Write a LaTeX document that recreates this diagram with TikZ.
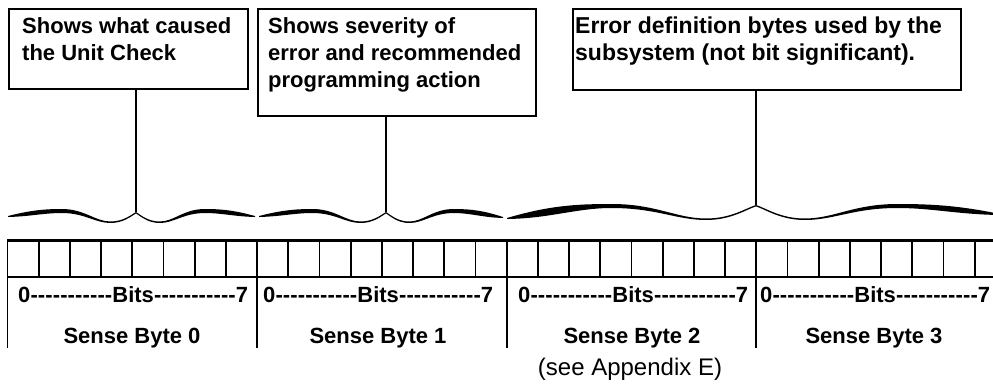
\documentclass[tikz,border=0pt]{standalone}
\usepackage{fontspec}
\setmainfont{Liberation Sans}
\newcommand\halfbrace[4]{%
 \fill (0,#1) .. controls (0.17,#2+1.5) and (0.28,#2) .. (0.42,#2)
   .. controls (0.6,#2) and (0.68,#3-0.5) .. (0.8,#3-0.5)
   .. controls (0.9,#3-0.5) and (0.96,#4+3) .. (1,#4)
   -- (1,#4+1.4)
   .. controls (0.96,#4+4.5) and (0.9,#3+1) .. (0.8,#3+1)
   .. controls (0.68,#3+1) and (0.6,#2+4) .. (0.42,#2+4)
   .. controls (0.28,#2+4) and (0.17,#1+0.5) .. (0,#1+1) -- cycle;}
\begin{document}
\begin{tikzpicture}[x=1pt,y=-1pt,
  box/.style={draw,line width=1.6pt,inner sep=0pt,anchor=north west},
  btxt/.style={anchor=base west,inner sep=0pt,align=left,font=\bfseries\fontsize{22}{27}\selectfont},
  lbl/.style={inner sep=0pt,font=\bfseries\fontsize{22}{25}\selectfont},
  link/.style={line width=1.8pt}]
\useasboundingbox (0,0) rectangle (993,388);
% boxes
\node[box,minimum width=239pt,minimum height=80pt] (b1) at (8,8) {};
\node[box,minimum width=278pt,minimum height=107pt] (b2) at (257,8) {};
\node[box,minimum width=388pt,minimum height=81pt] (b3) at (572,8) {};
\node[btxt] (t1a) at (22,33) {Shows what caused};
\node[btxt] (t1b) at (22,60) {the Unit Check};
\node[btxt] (t2a) at (268,33) {Shows severity of};
\node[btxt] (t2b) at (268,60) {error and recommended};
\node[btxt] (t2c) at (268,87) {programming action};
\node[btxt,font=\bfseries\fontsize{23}{27}\selectfont] (t3a) at (575,33) {Error definition bytes used by the};
\node[btxt,font=\bfseries\fontsize{23}{27}\selectfont] (t3b) at (575,60) {subsystem (not bit significant).};
% brace tips
\coordinate (k1) at (136,212);
\coordinate (k2) at (386,212);
\coordinate (k3) at (756,205);
\draw[link] (b1.south -| k1) -- (k1);
\draw[link] (b2.south -| k2) -- (k2);
\draw[link] (b3.south -| k3) -- (k3);
% braces
\begin{scope}[shift={(8,0)},xscale=128]\halfbrace{216}{209}{222}{212}\end{scope}
\begin{scope}[shift={(255,0)},xscale=-119]\halfbrace{216}{209}{222}{212}\end{scope}
\begin{scope}[shift={(259,0)},xscale=127]\halfbrace{216}{209}{222}{212}\end{scope}
\begin{scope}[shift={(503,0)},xscale=-117]\halfbrace{217}{209}{222}{212}\end{scope}
\begin{scope}[shift={(507,0)},xscale=249]\halfbrace{218}{204}{219}{205}\end{scope}
\begin{scope}[shift={(1000,0)},xscale=-244]\halfbrace{214}{204}{219}{205}\end{scope}
% register
\draw[line width=3pt] (7,240) -- (993,240);
\draw[line width=2.5pt] (7,277) -- (993,277);
\foreach \k in {0,...,31} \draw[line width=1.8pt] ({7.5+31.2*\k},240) -- ({7.5+31.2*\k},277);
\foreach \k in {0,1,2,3} \draw[line width=1.8pt] ({7.5+249.6*\k},277) -- ({7.5+249.6*\k},348);
% labels
\node[lbl,anchor=base west] (bits0) at (18,302) {\hbox to 230pt{0\xleaders\hbox{-}\hfill Bits\xleaders\hbox{-}\hfill 7}};
\node[lbl,anchor=base west] (bits1) at (263,302) {\hbox to 230pt{0\xleaders\hbox{-}\hfill Bits\xleaders\hbox{-}\hfill 7}};
\node[lbl,anchor=base west] (bits2) at (518,302) {\hbox to 230pt{0\xleaders\hbox{-}\hfill Bits\xleaders\hbox{-}\hfill 7}};
\node[lbl,anchor=base west] (bits3) at (760,302) {\hbox to 230pt{0\xleaders\hbox{-}\hfill Bits\xleaders\hbox{-}\hfill 7}};
\node[lbl,anchor=base] (sb0) at (132,343) {Sense Byte 0};
\node[lbl,anchor=base] (sb1) at (378,343) {Sense Byte 1};
\node[lbl,anchor=base] (sb2) at (632,343) {Sense Byte 2};
\node[lbl,anchor=base] (sb3) at (874,343) {Sense Byte 3};
\node[inner sep=0pt,anchor=base,font=\fontsize{24}{28}\selectfont] (app) at (630,375) {(see Appendix E)};
\end{tikzpicture}
\end{document}
